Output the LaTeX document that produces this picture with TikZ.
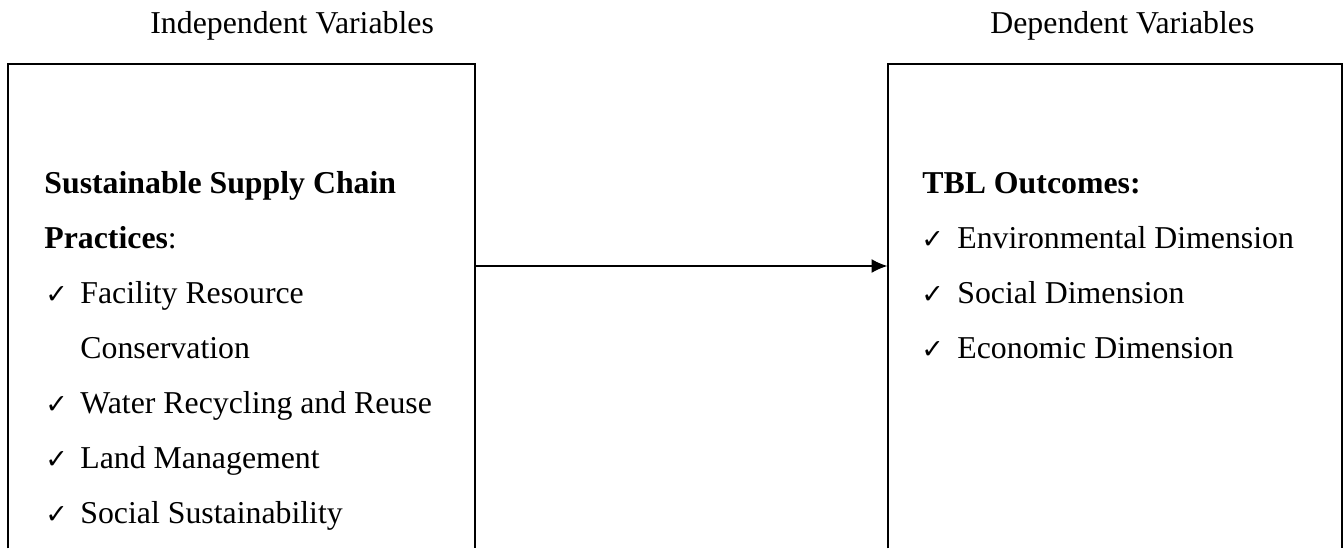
\documentclass[tikz,border=0pt]{standalone}
\usepackage{fontspec}
\setmainfont{Liberation Serif}
\newfontfamily\symfont{DejaVu Sans}
\usetikzlibrary{arrows.meta}
\newcommand{\chk}{{\symfont\fontsize{13.5}{14}\selectfont ✓}}
\tikzset{
  panel/.style={draw=none, inner sep=0pt, minimum height=242pt},
  panelline/.style={line width=1pt, black},
  txt/.style={inner sep=0pt, anchor=base west, font=\fontsize{15.9}{18}\selectfont},
  hdr/.style={inner sep=0pt, anchor=base west, font=\fontsize{15.9}{18}\selectfont},
  link/.style={line width=1pt, -{Latex[length=8pt,width=7pt]}}
}
\begin{document}
\begin{tikzpicture}[x=0.5pt,y=-0.5pt]
\useasboundingbox (0,0) rectangle (1344,548);
% headers
\node[hdr] (hiv) at (150,33) {Independent Variables};
\node[hdr] (hdv) at (990,33) {Dependent Variables};
% panels
\node[panel, minimum width=233.5pt] (iv) at (241.5,306) {};
\node[panel, minimum width=227pt] (dv) at (1115,306) {};
\draw[panelline] (iv.south west) -- (iv.north west) -- (iv.north east) -- (iv.south east);
\draw[panelline] (dv.south west) -- (dv.north west) -- (dv.north east) -- (dv.south east);
% left texts
\node[txt] (l1) at (44,193) {\textbf{Sustainable Supply Chain}};
\node[txt] (l2) at (44,248) {\textbf{Practices}:};
\node[txt] (c1) at (45,303) {\chk};
\node[txt] (l3) at (80,303) {Facility Resource};
\node[txt] (l4) at (80,358) {Conservation};
\node[txt] (c2) at (45,413) {\chk};
\node[txt] (l5) at (80,413) {Water Recycling and Reuse};
\node[txt] (c3) at (45,468) {\chk};
\node[txt] (l6) at (80,468) {Land Management};
\node[txt] (c4) at (45,523) {\chk};
\node[txt] (l7) at (80,523) {Social Sustainability};
% right texts
\node[txt] (r1) at (922,193) {\textbf{TBL Outcomes:}};
\node[txt] (c5) at (921,248) {\chk};
\node[txt] (r2) at (957,248) {Environmental Dimension};
\node[txt] (c6) at (921,303) {\chk};
\node[txt] (r3) at (957,303) {Social Dimension};
\node[txt] (c7) at (921,358) {\chk};
\node[txt] (r4) at (957,358) {Economic Dimension};
% connector
\draw[link] ([yshift=20pt]iv.east) -- ([yshift=20pt]dv.west);
\end{tikzpicture}
\end{document}
